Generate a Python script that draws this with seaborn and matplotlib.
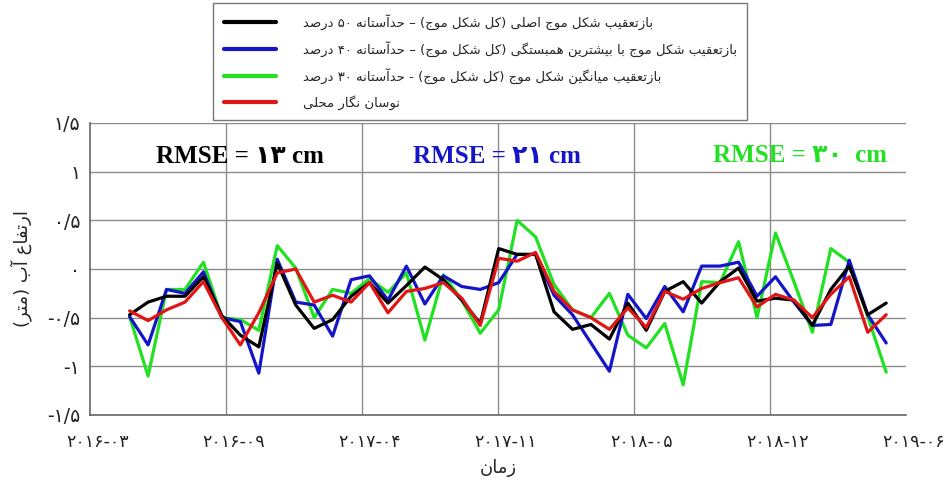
import numpy as np
import pandas as pd
import matplotlib
matplotlib.use('Agg')
import matplotlib.pyplot as plt
import matplotlib.transforms as mtransforms
import seaborn as sns
from matplotlib.lines import Line2D

# ---------------- data ----------------
black_vals = [-0.47, -0.34, -0.28, -0.28, -0.08, -0.48, -0.68, -0.80, 0.06, -0.37,
              -0.61, -0.52, -0.28, -0.14, -0.35, -0.17, 0.02, -0.11, -0.32, -0.56,
              0.21, 0.15, 0.15, -0.44, -0.62, -0.57, -0.72, -0.35, -0.63, -0.23,
              -0.13, -0.35, -0.13, 0.01, -0.33, -0.30, -0.32, -0.58, -0.21, 0.03,
              -0.47, -0.35]
blue_vals = [-0.49, -0.78, -0.21, -0.25, -0.03, -0.50, -0.54, -1.07, 0.10, -0.34,
             -0.37, -0.69, -0.11, -0.07, -0.32, 0.03, -0.36, -0.07, -0.18, -0.21,
             -0.14, 0.15, 0.15, -0.27, -0.47, -0.76, -1.05, -0.26, -0.51, -0.18,
             -0.44, 0.03, 0.03, 0.07, -0.28, -0.08, -0.34, -0.58, -0.57, 0.09,
             -0.47, -0.76]
green_vals = [-0.49, -1.10, -0.21, -0.21, 0.07, -0.50, -0.52, -0.63, 0.24, 0.01,
              -0.50, -0.21, -0.25, -0.10, -0.24, -0.04, -0.73, -0.06, -0.32, -0.66,
              -0.42, 0.50, 0.33, -0.16, -0.42, -0.50, -0.25, -0.68, -0.81, -0.56,
              -1.19, -0.13, -0.14, 0.28, -0.50, 0.37, -0.13, -0.65, 0.21, 0.07,
              -0.49, -1.06]
red_vals = [-0.43, -0.53, -0.42, -0.34, -0.13, -0.50, -0.78, -0.45, -0.04, 0.00,
            -0.34, -0.27, -0.34, -0.14, -0.45, -0.23, -0.20, -0.14, -0.30, -0.58,
            0.11, 0.08, 0.17, -0.23, -0.42, -0.50, -0.62, -0.40, -0.60, -0.23,
            -0.31, -0.20, -0.14, -0.09, -0.39, -0.26, -0.32, -0.50, -0.26, -0.08,
            -0.65, -0.47]
dates = pd.date_range('2016-05-12', periods=42, freq='27D')

tick_dates = pd.date_range('2016-03-15', periods=7, freq='199D')
xtick_labels = ['۲۰۱۶-۰۳', '۲۰۱۶-۰۹', '۲۰۱۷-۰۴', '۲۰۱۷-۱۱', '۲۰۱۸-۰۵', '۲۰۱۸-۱۲', '۲۰۱۹-۰۶']
ytick_vals = [-1.5, -1.0, -0.5, 0.0, 0.5, 1.0, 1.5]
ytick_labels = ['-۱/۵', '-۱', '-۰/۵', '۰', '۰/۵', '۱', '۱/۵']

series_labels = [
    'بازتعقیب شکل موج اصلی (کل شکل موج) – حدآستانه ۵۰ درصد',
    'بازتعقیب شکل موج با بیشترین همبستگی (کل شکل موج) – حدآستانه ۴۰ درصد',
    'بازتعقیب میانگین شکل موج (کل شکل موج) - حدآستانه ۳۰ درصد',
    'نوسان نگار محلی',
]
rmse_texts = ['RMSE = ۱۳ cm', 'RMSE = ۲۱ cm', 'RMSE = ۳۰  cm']
xlabel_text = 'زمان'
ylabel_text = 'ارتفاع آب (متر)'

# ---------------- minimal Persian shaping ----------------
FORMS = {
    'ا': (0xFE8D, 0xFE8E, None, None), 'آ': (0xFE81, 0xFE82, None, None),
    'د': (0xFEA9, 0xFEAA, None, None), 'ر': (0xFEAD, 0xFEAE, None, None),
    'ز': (0xFEAF, 0xFEB0, None, None), 'و': (0xFEED, 0xFEEE, None, None),
    'ب': (0xFE8F, 0xFE90, 0xFE91, 0xFE92), 'پ': (0xFB56, 0xFB57, 0xFB58, 0xFB59),
    'ت': (0xFE95, 0xFE96, 0xFE97, 0xFE98), 'ج': (0xFE9D, 0xFE9E, 0xFE9F, 0xFEA0),
    'ح': (0xFEA1, 0xFEA2, 0xFEA3, 0xFEA4), 'س': (0xFEB1, 0xFEB2, 0xFEB3, 0xFEB4),
    'ش': (0xFEB5, 0xFEB6, 0xFEB7, 0xFEB8), 'ص': (0xFEB9, 0xFEBA, 0xFEBB, 0xFEBC),
    'ع': (0xFEC9, 0xFECA, 0xFECB, 0xFECC), 'ف': (0xFED1, 0xFED2, 0xFED3, 0xFED4),
    'ق': (0xFED5, 0xFED6, 0xFED7, 0xFED8), 'ک': (0xFB8E, 0xFB8F, 0xFB90, 0xFB91),
    'گ': (0xFB92, 0xFB93, 0xFB94, 0xFB95), 'ل': (0xFEDD, 0xFEDE, 0xFEDF, 0xFEE0),
    'م': (0xFEE1, 0xFEE2, 0xFEE3, 0xFEE4), 'ن': (0xFEE5, 0xFEE6, 0xFEE7, 0xFEE8),
    'ه': (0xFEE9, 0xFEEA, 0xFEEB, 0xFEEC), 'ی': (0xFBFC, 0xFBFD, 0xFBFE, 0xFBFF),
}


def shape(s):
    def dual(c):
        return c in FORMS and FORMS[c][2] is not None
    out = []
    for i, c in enumerate(s):
        if c not in FORMS:
            out.append(c)
            continue
        prev = s[i - 1] if i > 0 else ''
        nxt = s[i + 1] if i + 1 < len(s) else ''
        pj = dual(prev)
        nj = dual(c) and nxt in FORMS
        f = FORMS[c]
        if pj and nj:
            code = f[3]
        elif pj:
            code = f[1]
        elif nj:
            code = f[2]
        else:
            code = f[0]
        out.append(chr(code))
    rev = out[::-1]
    mirror = {'(': ')', ')': '('}
    rev = [mirror.get(c, c) for c in rev]
    res, run = [], []
    for c in rev:
        if c.isdigit() or c.isascii() and c.isalpha():
            run.append(c)
        else:
            res.extend(run[::-1])
            run = []
            res.append(c)
    res.extend(run[::-1])
    return ''.join(res)


# ---------------- plot ----------------
sns.set_theme(style='white')
plt.rcParams['font.family'] = ['DejaVu Sans']

fig = plt.figure(figsize=(9.52, 4.84), dpi=100)
ax = fig.add_axes([90 / 952, (484 - 415) / 484, 816 / 952, 292 / 484])

colors = {'black': '#000000', 'blue': '#1414c8', 'green': '#22e022', 'red': '#e01515'}
df = pd.DataFrame({'date': dates, 'black': black_vals, 'blue': blue_vals,
                   'green': green_vals, 'red': red_vals})
for key in ['green', 'blue', 'black', 'red']:
    sns.lineplot(data=df, x='date', y=key, ax=ax, color=colors[key], lw=2.3, legend=False)

ax.set_xlim(tick_dates[0], tick_dates[-1])
ax.set_ylim(-1.5, 1.5)
ax.set_xticks(tick_dates)
ax.set_xticklabels(xtick_labels, fontsize=12.5, color='#222222')
ax.set_yticks(ytick_vals)
ax.set_yticklabels(ytick_labels, fontsize=13.5, color='#222222')
ax.tick_params(axis='both', length=0)
ax.tick_params(axis='x', pad=13)
ax.tick_params(axis='y', pad=7)
shift = mtransforms.ScaledTranslation(8 / 100, 0, fig.dpi_scale_trans)
for lab in ax.get_xticklabels():
    lab.set_transform(lab.get_transform() + shift)

ax.grid(axis='y', color='#8a8a8a', lw=1.0)
for d in tick_dates[1:-1]:
    ax.axvline(d, color='#8a8a8a', lw=1.0, zorder=0)
for s in ['top', 'right']:
    ax.spines[s].set_visible(False)
for s in ['left', 'bottom']:
    ax.spines[s].set_color('#666666')
    ax.spines[s].set_linewidth(1.2)

ax.set_xlabel(shape(xlabel_text), fontsize=13, labelpad=6)
ax.set_ylabel(shape(ylabel_text), fontsize=13, labelpad=11)

rmse_colors = ['#000000', '#1414c8', '#22e022']
rmse_pos = [(0.184, 0.884), (0.499, 0.884), (0.87, 0.89)]
for t, c, (px, py) in zip(rmse_texts, rmse_colors, rmse_pos):
    ax.text(px, py, t, transform=ax.transAxes, ha='center', va='center',
            fontsize=18, fontweight='bold', color=c,
            family=['Liberation Serif', 'DejaVu Sans'])

handles = [Line2D([], [], color=colors[k], lw=3) for k in ['black', 'blue', 'green', 'red']]
leg = fig.legend(handles, [shape(l) for l in series_labels], loc='upper left',
                 bbox_to_anchor=(213 / 952, 1 - 3 / 484), frameon=True, fancybox=False,
                 edgecolor='#555555', fontsize=9.5, handlelength=4.0, handletextpad=2.0,
                 labelspacing=0.85, borderpad=0.8, borderaxespad=0)
leg.get_frame().set_linewidth(1.0)

fig.savefig('out.png', dpi=100)
